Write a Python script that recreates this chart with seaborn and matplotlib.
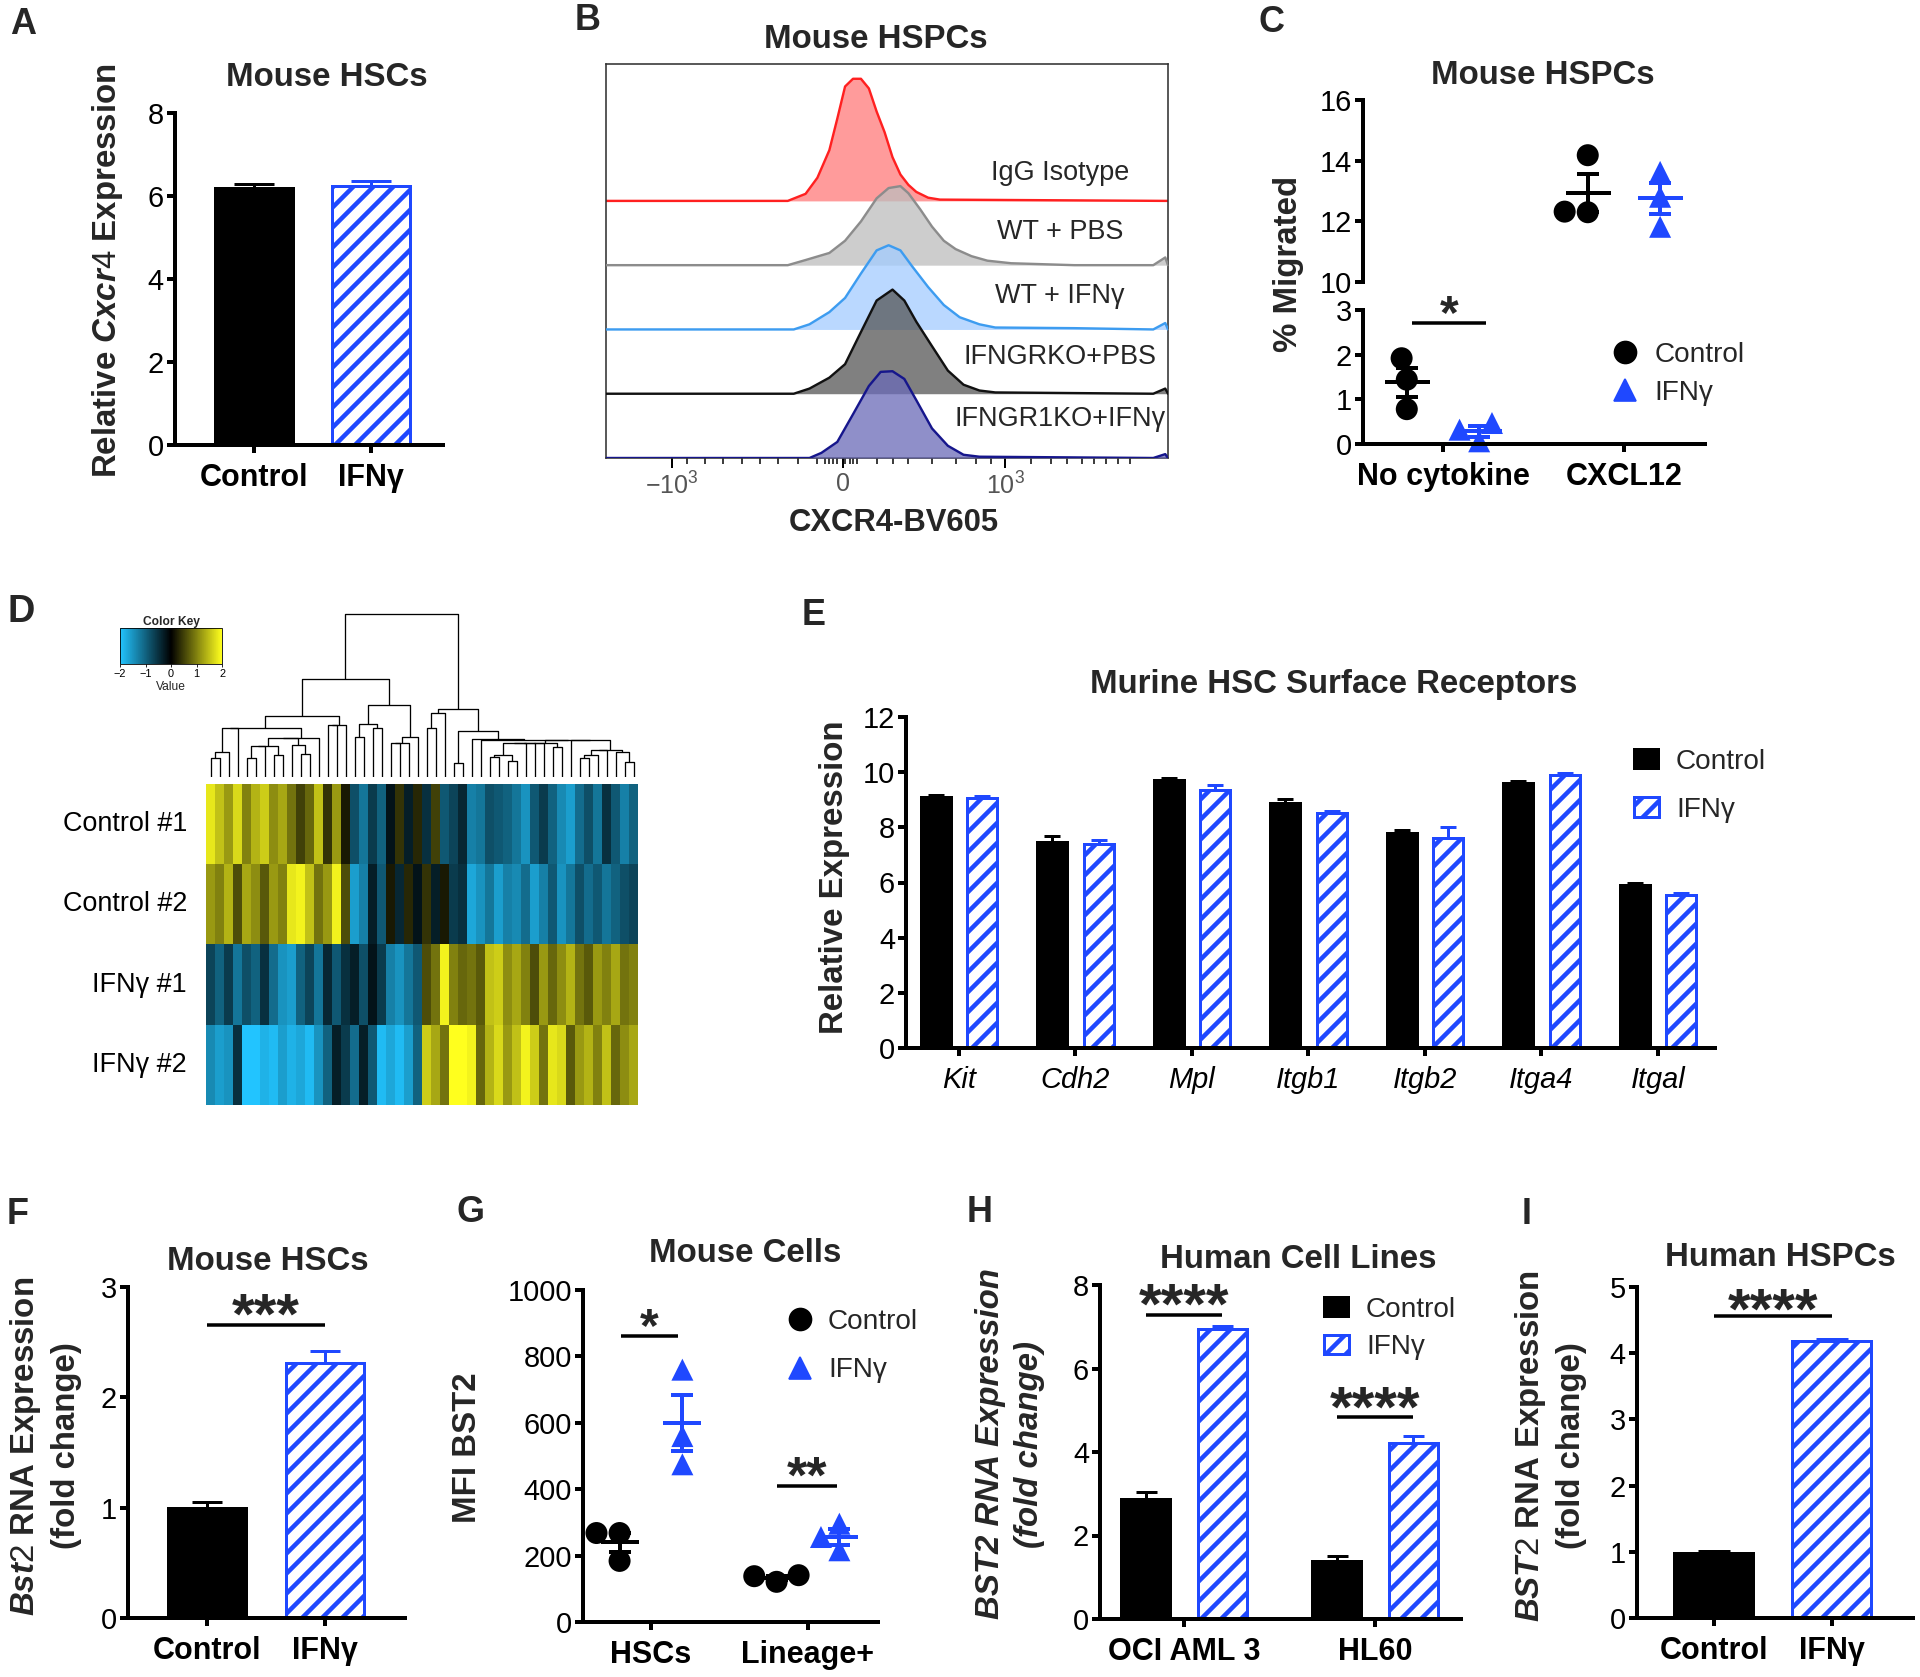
"""
Multi-panel figure: IFNγ effects on CXCR4 / BST2 in mouse and human HSPCs
"""

import numpy as np
import pandas as pd
import matplotlib
matplotlib.use('Agg')
import matplotlib.pyplot as plt
import seaborn as sns
from matplotlib.colors import LinearSegmentedColormap
from matplotlib.patches import Patch
from matplotlib.lines import Line2D

DPI = 120
W, H = 1920, 1677
BLUE = '#1f48ff'
GROUPS = ['Control', 'IFNγ']

# ---------------- data ----------------
# A: relative Cxcr4 expression
a_means = [6.20, 6.25]
a_sems = [0.10, 0.10]

# B: CXCR4-BV605 histograms (channel value, height in lane units)
b_labels = ['IgG Isotype', 'WT + PBS', 'WT + IFNγ', 'IFNGRKO+PBS', 'IFNGR1KO+IFNγ']
b_iso_x = [-1465, -342, -232, -159, -85, -36, 12, 61, 110, 159, 207, 256, 305, 354, 403, 452, 525, 598, 2007]
b_iso_y = [0, 0, 0.11, 0.36, 0.79, 1.28, 1.78, 1.90, 1.90, 1.75, 1.39, 1.07, 0.68, 0.41, 0.25, 0.14, 0.05, 0.02, 0]
b_wtpbs_x = [-1465, -342, -232, -85, 12, 110, 207, 281, 354, 403, 476, 549, 622, 695, 793, 891, 1038, 1428, 1916, 1990, 2007]
b_wtpbs_y = [0, 0, 0.08, 0.19, 0.38, 0.68, 1.04, 1.20, 1.23, 1.12, 0.87, 0.60, 0.38, 0.25, 0.14, 0.07, 0.03, 0, 0, 0.12, 0]
b_wtifn_x = [-1465, -305, -208, -85, 12, 110, 207, 281, 354, 427, 525, 622, 720, 842, 940, 1428, 1916, 1990, 2007]
b_wtifn_y = [0, 0, 0.08, 0.27, 0.49, 0.87, 1.23, 1.31, 1.23, 0.98, 0.66, 0.38, 0.19, 0.08, 0.03, 0.02, 0, 0.10, 0]
b_kopbs_x = [-1465, -305, -208, -85, 12, 110, 207, 305, 378, 452, 549, 647, 744, 842, 940, 1916, 1990, 2007]
b_kopbs_y = [0, 0, 0.08, 0.25, 0.46, 0.96, 1.45, 1.62, 1.45, 1.12, 0.74, 0.36, 0.14, 0.05, 0.02, 0, 0.08, 0]
b_koifn_x = [-1465, -208, -134, -36, 61, 159, 232, 305, 378, 452, 549, 647, 744, 842, 1916, 1990, 2007]
b_koifn_y = [0, 0, 0.08, 0.25, 0.68, 1.12, 1.34, 1.35, 1.23, 0.90, 0.46, 0.19, 0.05, 0.02, 0, 0.06, 0]
b_ticks = [-1060, 0, 1000]
b_ticklabels = [r'$\mathregular{-10^{3}}$', '0', r'$\mathregular{10^{3}}$']
b_minor = [-964, -855, -745, -623, -513, -403, -281, -159, -110, -85, -60, -36, 12, 40, 61, 85,
           207, 305, 403, 549, 695, 818, 916, 1160, 1282, 1380, 1477, 1550, 1624, 1697, 1770]

# C: % migrated
c_order = ['No cytokine', 'CXCL12']
c_condition = ['No cytokine'] * 6 + ['CXCL12'] * 6
c_group = ['Control'] * 3 + ['IFNγ'] * 3 + ['Control'] * 3 + ['IFNγ'] * 3
c_value = [1.92, 1.44, 0.78, 0.06, 0.47, 0.32, 14.18, 12.30, 12.32, 13.63, 12.81, 11.82]

# D: heatmap of z-scored expression (rows = samples, columns = genes, ordered)
d_rows = ['Control #1', 'Control #2', 'IFNγ #1', 'IFNγ #2']
d_ctrl1 = [1.8, 1.5, 1.2, 1.7, 1.0, 1.4, 1.6, 1.1, 1.3, 0.9, 0.5, 0.8, 1.5, 0.4, 1.2,
           0.2, -0.8, -1.2, -0.6, -1.0, -0.2, 0.4, -0.3, 0.3, -0.5, 0.5, -0.9, -0.7, -0.4, -1.3, -1.2, -0.8, -0.9, -1.0,
           -1.2, -1.5, -0.9, -0.6, -1.0, -1.4, -1.6, -1.1, -0.8, -1.2, -0.5, -0.9, -1.3, -1.0]
d_ctrl2 = [1.2, 1.0, 1.4, 0.6, 1.3, 1.1, 0.7, 1.2, 1.0, 1.8, 1.9, 1.5, 0.9, 1.2, 1.9,
           0.6, -1.6, -1.3, -0.3, -0.9, 0.2, -0.4, 0.3, -0.2, 0.4, -0.3, 0.2, -0.6, -0.5, -1.7, -1.5, -1.2, -1.6, -1.3,
           -1.4, -1.1, -1.6, -1.3, -0.9, -1.5, -1.2, -0.8, -1.1, -0.9, -1.2, -1.0, -0.8, -0.7]
d_ifn1 = [-0.7, -1.0, -0.6, -1.2, -0.8, -1.0, -0.5, -1.1, -1.5, -1.6, -1.0, -0.7, -1.2, -0.4, -0.9,
          -0.5, -0.3, -0.8, -0.2, -0.6, -1.3, -1.5, -1.2, -0.9, 0.6, 0.9, 1.9, 1.0, 0.8, 0.9, 0.7, 1.5, 1.6, 1.1,
          1.3, 1.0, 0.6, 1.2, 0.8, 1.1, 1.4, 0.9, 0.7, 1.2, 1.0, 1.3, 0.9, 1.0]
d_ifn2 = [-1.4, -1.6, -1.5, -0.5, -2.0, -2.0, -1.8, -1.9, -1.6, -1.8, -1.7, -1.9, -1.5, -1.0, -0.3,
          -0.6, -1.1, -0.3, -0.9, -1.9, -1.7, -1.9, -1.6, -1.0, 1.6, 1.3, 0.9, 2.0, 2.0, 1.9, 0.8, 1.4, 1.7, 1.2,
          1.5, 1.9, 1.6, 0.9, 1.8, 1.7, 0.7, 1.2, 1.4, 1.0, 1.5, 0.8, 1.1, 1.3]

# E: surface receptors
e_genes = ['Kit', 'Cdh2', 'Mpl', 'Itgb1', 'Itgb2', 'Itga4', 'Itgal']
e_ctrl = [9.11, 7.48, 9.70, 8.88, 7.78, 9.61, 5.91]
e_ctrl_sem = [0.08, 0.20, 0.08, 0.15, 0.14, 0.06, 0.08]
e_ifn = [9.06, 7.41, 9.37, 8.51, 7.61, 9.90, 5.54]
e_ifn_sem = [0.08, 0.12, 0.17, 0.09, 0.41, 0.06, 0.09]

# F: Bst2 in mouse HSCs
f_means = [1.00, 2.31]
f_sems = [0.05, 0.11]

# G: MFI BST2
g_order = ['HSCs', 'Lineage+']
g_cell = ['HSCs'] * 6 + ['Lineage+'] * 6
g_group = ['Control'] * 3 + ['IFNγ'] * 3 + ['Control'] * 3 + ['IFNγ'] * 3
g_value = [268, 268, 184, 760, 560, 475, 121, 138, 141, 296, 256, 216]

# H: human cell lines
h_lines = ['OCI AML 3', 'HL60']
h_ctrl = [2.88, 1.40]
h_ctrl_sem = [0.17, 0.10]
h_ifn = [6.94, 4.21]
h_ifn_sem = [0.08, 0.18]

# I: human HSPCs
i_means = [0.98, 4.18]
i_sems = [0.03, 0.04]

# ---------------- style ----------------
sns.set_style('ticks')
plt.rcParams['font.family'] = ['Liberation Sans', 'DejaVu Sans']
plt.rcParams.update({
    'mathtext.fontset': 'custom',
    'mathtext.rm': 'Liberation Sans',
    'mathtext.it': 'Liberation Sans:italic:bold',
    'mathtext.bf': 'Liberation Sans:bold',
    'axes.edgecolor': 'black',
    'xtick.color': 'black',
    'ytick.color': 'black',
})


def pt(px):
    return px * 72.0 / DPI


plt.rcParams.update({
    'hatch.linewidth': pt(4.5),
    'axes.linewidth': pt(4),
    'xtick.major.width': pt(4),
    'ytick.major.width': pt(4),
    'xtick.major.size': pt(8),
    'ytick.major.size': pt(8),
})

fig = plt.figure(figsize=(W / DPI, H / DPI), dpi=DPI)


def add_ax(l, t, r, b):
    return fig.add_axes([l / W, 1 - b / H, (r - l) / W, (b - t) / H])


def fig_text(x, y, s, size, **kw):
    kw.setdefault('ha', 'center')
    kw.setdefault('va', 'center')
    fig.text(x / W, 1 - y / H, s, fontsize=pt(size), **kw)


def prism(ax, ylim, yticks, xlim):
    sns.despine(ax=ax)
    ax.set_ylim(*ylim)
    ax.set_yticks(yticks)
    ax.set_xlim(*xlim)
    ax.tick_params(axis='y', labelsize=pt(29), pad=pt(3))
    ax.tick_params(axis='x', labelsize=pt(30.5), pad=pt(10))
    plt.setp(ax.get_xticklabels(), fontweight='bold')
    ax.set_xlabel('')
    ax.set_ylabel('')


def finish_bars(ax, cats, sem_table, cap):
    for p in list(ax.patches):
        cx = p.get_x() + p.get_width() / 2
        cat = cats[int(round(cx))]
        is_ifn = p.get_facecolor()[0] > 0.5
        grp = GROUPS[1] if is_ifn else GROUPS[0]
        color = BLUE if is_ifn else 'black'
        if is_ifn:
            p.set_hatch('//')
        p.set_edgecolor(color)
        p.set_linewidth(pt(3))
        ax.errorbar(cx, p.get_height(), yerr=[[0], [sem_table[(cat, grp)]]], color=color,
                    capsize=pt(cap), elinewidth=pt(3), capthick=pt(3), zorder=3)


def bar_pair(ax, means, sems, cap):
    df = pd.DataFrame({'group': GROUPS, 'value': means})
    sns.barplot(data=df, x='group', y='value', hue='group', order=GROUPS, hue_order=GROUPS,
                palette=['black', 'white'], saturation=1, width=0.667, legend=False, ax=ax)
    finish_bars(ax, GROUPS, {(g, g): s for g, s in zip(GROUPS, sems)}, cap)


def bar_groups(ax, cats, ctrl, ctrl_sem, ifn, ifn_sem, cap):
    df = pd.DataFrame({'cat': cats * 2, 'group': [GROUPS[0]] * len(cats) + [GROUPS[1]] * len(cats),
                       'value': ctrl + ifn})
    sns.barplot(data=df, x='cat', y='value', hue='group', order=cats, hue_order=GROUPS,
                palette=['black', 'white'], saturation=1, width=0.8, gap=0.36, legend=False, ax=ax)
    table = {(c, GROUPS[0]): s for c, s in zip(cats, ctrl_sem)}
    table.update({(c, GROUPS[1]): s for c, s in zip(cats, ifn_sem)})
    finish_bars(ax, cats, table, cap)


def dots(ax, df, cat_col, order, mean_px, cap):
    for grp, marker, color in zip(GROUPS, ['o', '^'], ['black', BLUE]):
        sub = df[df['group'] == grp]
        if sub.empty:
            continue
        sns.swarmplot(data=sub, x=cat_col, y='value', hue='group', order=order, hue_order=GROUPS,
                      palette=['black', BLUE], dodge=True, marker=marker, size=pt(22),
                      legend=False, ax=ax, clip_on=False, zorder=2)
    stats = df.groupby([cat_col, 'group'])['value'].agg(['mean', 'sem'])
    for (cat, grp), row in stats.iterrows():
        x = order.index(cat) + (-0.2 if grp == GROUPS[0] else 0.2)
        color = 'black' if grp == GROUPS[0] else BLUE
        ax.errorbar(x, row['mean'], yerr=row['sem'], fmt='_', ms=pt(mean_px), mew=pt(4),
                    color=color, capsize=pt(cap), elinewidth=pt(4), capthick=pt(4),
                    zorder=4, clip_on=False)


def sig(ax, x0, x1, y, ystar, stars, em=58):
    ax.plot([x0, x1], [y, y], color='black', lw=pt(3.5), solid_capstyle='butt', clip_on=False)
    ax.annotate(stars, ((x0 + x1) / 2, ystar), xytext=(0, -0.58 * pt(em)), textcoords='offset points',
                ha='center', va='baseline', fontsize=pt(em), fontweight='bold', annotation_clip=False)


def legend(ax, handles, x, y, spacing, hl=1.0, pad=0.55):
    ax.legend(handles, GROUPS, loc='upper left', bbox_to_anchor=(x / W, 1 - y / H),
              bbox_transform=fig.transFigure, frameon=False, fontsize=pt(28), borderpad=0,
              borderaxespad=0, handlelength=hl, handleheight=0.7, handletextpad=pad,
              labelspacing=spacing)


dot_handles = [Line2D([], [], marker='o', ls='none', color='black', markersize=pt(22)),
               Line2D([], [], marker='^', ls='none', color=BLUE, markersize=pt(22))]
bar_handles = [Patch(facecolor='black', edgecolor='black', linewidth=pt(2)),
               Patch(facecolor='white', edgecolor=BLUE, hatch='//', linewidth=pt(3))]
LETTER = 36

# ---------------- A ----------------
ax = add_ax(175, 113, 443, 445)
bar_pair(ax, a_means, a_sems, cap=20)
prism(ax, (0, 8), range(0, 9, 2), (-0.675, 1.615))
fig_text(23, 25, 'A', LETTER, fontweight='bold')
fig_text(327, 77, 'Mouse HSCs', 33, fontweight='bold')
fig_text(108, 271, r'Relative $\mathit{Cxcr4}$ Expression', 33, fontweight='bold', rotation=90)

# ---------------- B ----------------
ax = add_ax(606, 64, 1168, 458)
b_x = [b_iso_x, b_wtpbs_x, b_wtifn_x, b_kopbs_x, b_koifn_x]
b_y = [b_iso_y, b_wtpbs_y, b_wtifn_y, b_kopbs_y, b_koifn_y]
b_line = ['#ff2020', '#8c8c8c', '#3d9cf0', '#111111', '#16168c']
b_fill = ['#ff7a7a', '#bdbdbd', '#a3ccff', '#555555', '#6a6ab8']
b_label_off = [0.44, 0.52, 0.52, 0.57, 0.60]
for i, (xs, ys) in enumerate(zip(b_x, b_y)):
    base = len(b_x) - 1 - i
    top = base + np.array(ys)
    ax.fill_between(xs, base, top, color=b_fill[i], alpha=0.75, lw=0, zorder=2 + i)
    ax.plot(xs, top, color=b_line[i], lw=pt(2.4), zorder=2 + i)
    ax.text(1340, base + b_label_off[i], b_labels[i], ha='center', va='center', fontsize=pt(27), zorder=10)
ax.set_xlim(-1465, 2007)
ax.set_ylim(0, 6.13)
ax.set_yticks([])
ax.set_xticks(b_ticks)
ax.set_xticklabels(b_ticklabels)
ax.set_xticks(b_minor, minor=True)
ax.tick_params(axis='x', which='major', length=pt(10), width=pt(2), labelsize=pt(25),
               labelcolor='#555555', pad=pt(4))
ax.tick_params(axis='x', which='minor', length=pt(6), width=pt(1.5))
for s in ax.spines.values():
    s.set_linewidth(pt(1.6))
    s.set_color('#333333')
fig_text(588, 21, 'B', LETTER, fontweight='bold')
fig_text(876, 39, 'Mouse HSPCs', 33, fontweight='bold')
fig_text(894, 523, 'CXCR4-BV605', 31, fontweight='bold')

# ---------------- C ----------------
df_c = pd.DataFrame({'condition': c_condition, 'group': c_group, 'value': c_value})
ax_up = add_ax(1363, 100, 1705, 282)
ax_lo = add_ax(1363, 310, 1705, 444)
dots(ax_up, df_c[df_c['condition'] == 'CXCL12'], 'condition', c_order, mean_px=45, cap=11)
dots(ax_lo, df_c[df_c['condition'] == 'No cytokine'], 'condition', c_order, mean_px=45, cap=11)
prism(ax_up, (10, 16), [10, 12, 14, 16], (-0.442, 1.448))
ax_up.spines['bottom'].set_visible(False)
ax_up.tick_params(axis='x', bottom=False, labelbottom=False)
prism(ax_lo, (0, 3), [0, 1, 2, 3], (-0.442, 1.448))
sig(ax_lo, -0.17, 0.24, 2.71, 3.22, '*', em=48)
legend(ax_lo, dot_handles, 1611, 342, 0.42)
fig_text(1272, 22, 'C', LETTER, fontweight='bold')
fig_text(1543, 75, 'Mouse HSPCs', 33, fontweight='bold')
fig_text(1288, 264, '% Migrated', 33, fontweight='bold', rotation=90)


# ---------------- D ----------------
def ordered_tree(values):
    # average linkage restricted to neighbouring columns, so leaves keep heatmap order
    cols = values.T
    dist = np.sqrt(((cols[:, None, :] - cols[None, :, :]) ** 2).sum(-1))
    nodes = [([i], float(i), 0.0) for i in range(len(cols))]
    links = []
    while len(nodes) > 1:
        scores = [dist[np.ix_(a[0], b[0])].mean() for a, b in zip(nodes[:-1], nodes[1:])]
        k = int(np.argmin(scores))
        (ma, xa, ha), (mb, xb, hb) = nodes[k], nodes[k + 1]
        h = max(scores[k], ha, hb)
        links.append(([xa, xa, xb, xb], [ha, h, h, hb]))
        nodes[k:k + 2] = [(ma + mb, (xa + xb) / 2, h)]
    return links


hm = pd.DataFrame([d_ctrl1, d_ctrl2, d_ifn1, d_ifn2], index=d_rows)
cmap = LinearSegmentedColormap.from_list('cyan_yellow', ['#22c4ff', '#000000', '#ffff1e'])
ax_hm = add_ax(206, 784, 638, 1105)
sns.heatmap(hm, cmap=cmap, vmin=-2, vmax=2, cbar=False, xticklabels=False, yticklabels=True, ax=ax_hm)
ax_hm.set_ylabel('')
ax_hm.tick_params(axis='y', length=0, pad=pt(19), labelsize=pt(27), labelrotation=0)

ax_dn = add_ax(206, 612, 638, 777)
links = ordered_tree(hm.values)
for xs, ys in links:
    ax_dn.plot(np.array(xs) + 0.5, ys, color='black', lw=pt(1.3), solid_capstyle='butt')
ax_dn.set_xlim(0, hm.shape[1])
ax_dn.set_ylim(0, max(max(ys) for _, ys in links) * 1.01)
ax_dn.axis('off')

ax_key = add_ax(120, 628, 222, 664)
cb = fig.colorbar(ax_hm.collections[0], cax=ax_key, orientation='horizontal', ticks=[-2, -1, 0, 1, 2])
cb.outline.set_linewidth(0.5)
ax_key.tick_params(labelsize=pt(11), length=2, width=0.5, pad=1)
ax_key.set_title('Color Key', fontsize=pt(12), pad=2, fontweight='bold')
cb.set_label('Value', fontsize=pt(12), labelpad=1)
fig_text(21, 612, 'D', 38, fontweight='bold')

# ---------------- E ----------------
ax = add_ax(906, 717, 1715, 1048)
bar_groups(ax, e_genes, e_ctrl, e_ctrl_sem, e_ifn, e_ifn_sem, cap=8)
prism(ax, (0, 12), range(0, 13, 2), (-0.455, 6.49))
plt.setp(ax.get_xticklabels(), fontweight='normal', fontstyle='italic', fontsize=pt(29))
legend(ax, bar_handles, 1634, 749, 0.78, hl=0.9, pad=0.6)
fig_text(814, 615, 'E', LETTER, fontweight='bold')
fig_text(1334, 684, 'Murine HSC Surface Receptors', 33, fontweight='bold')
fig_text(834, 877, 'Relative Expression', 33, fontweight='bold', rotation=90)

# ---------------- F ----------------
ax = add_ax(128, 1287, 405, 1618)
bar_pair(ax, f_means, f_sems, cap=15)
prism(ax, (0, 3), [0, 1, 2, 3], (-0.67, 1.68))
sig(ax, 0, 1, 2.66, 2.88, '***')
fig_text(18, 1215, 'F', LETTER, fontweight='bold')
fig_text(268, 1262, 'Mouse HSCs', 33, fontweight='bold')
fig_text(45, 1446, '$\\mathit{Bst2}$ RNA Expression\n(fold change)', 33, fontweight='bold',
         rotation=90, linespacing=1.3)

# ---------------- G ----------------
df_g = pd.DataFrame({'cell': g_cell, 'group': g_group, 'value': g_value})
ax = add_ax(583, 1290, 878, 1622)
dots(ax, df_g, 'cell', g_order, mean_px=38, cap=11)
prism(ax, (0, 1000), range(0, 1001, 200), (-0.433, 1.446))
sig(ax, -0.19, 0.17, 861, 930, '*', em=48)
sig(ax, 0.80, 1.185, 409, 479, '**', em=52)
legend(ax, dot_handles, 786, 1309, 0.8, pad=0.5)
fig_text(470, 1212, 'G', LETTER, fontweight='bold')
fig_text(745, 1253, 'Mouse Cells', 33, fontweight='bold')
fig_text(468, 1448, 'MFI BST2', 33, fontweight='bold', rotation=90)

# ---------------- H ----------------
ax = add_ax(1100, 1285, 1461, 1619)
bar_groups(ax, h_lines, h_ctrl, h_ctrl_sem, h_ifn, h_ifn_sem, cap=10.5)
prism(ax, (0, 8), range(0, 9, 2), (-0.44, 1.45))
sig(ax, -0.2, 0.2, 7.28, 7.88, '****')
sig(ax, 0.8, 1.2, 4.84, 5.41, '****')
legend(ax, bar_handles, 1324, 1297, 0.4, hl=0.9, pad=0.6)
fig_text(980, 1213, 'H', LETTER, fontweight='bold')
fig_text(1298, 1260, 'Human Cell Lines', 33, fontweight='bold')
fig_text(1010, 1444, 'BST2 RNA Expression\n(fold change)', 33, fontweight='bold', fontstyle='italic',
         rotation=90, linespacing=1.3)

# ---------------- I ----------------
ax = add_ax(1637, 1287, 1913, 1618)
bar_pair(ax, i_means, i_sems, cap=16)
prism(ax, (0, 5), range(0, 6), (-0.65, 1.69))
sig(ax, 0, 1, 4.56, 4.88, '****')
fig_text(1527, 1215, 'I', LETTER, fontweight='bold')
fig_text(1780, 1257, 'Human HSPCs', 33, fontweight='bold')
fig_text(1550, 1446, '$\\mathit{BST2}$ RNA Expression\n(fold change)', 33, fontweight='bold',
         rotation=90, linespacing=1.3)

fig.savefig('out.png', dpi=DPI, facecolor='white')
